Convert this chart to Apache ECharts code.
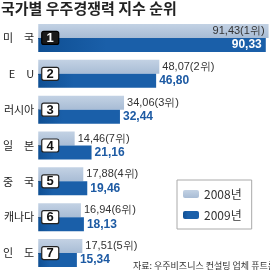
<!DOCTYPE html>
<html><head><meta charset="utf-8">
<script src="https://cdn.jsdelivr.net/npm/echarts@6/dist/echarts.min.js"></script>
<style>html,body{margin:0;padding:0;background:#fff}#c{width:270px;height:271px}</style>
</head><body><div id="c"></div>
<script>
var categories = ['미　국', 'E　U', '러시아', '일　본', '중　국', '캐나다', '인　도'];
var values2008 = [91.43, 48.07, 34.06, 14.46, 17.88, 16.94, 17.51];
var ranks2008 = [1, 2, 3, 7, 4, 6, 5];
var values2009 = [90.33, 46.80, 32.44, 21.16, 19.46, 18.13, 15.34];
var ranks2009 = [1, 2, 3, 4, 5, 6, 7];
var seriesNames = ['2008년', '2009년'];
var titleText = '국가별 우주경쟁력 지수 순위';
var sourceText = '자료: 우주비즈니스 컨설팅 업체 퓨트론';

var FONT = '"Noto Sans CJK KR", "Noto Sans", sans-serif';
var NUMFONT = '"Liberation Sans", Arial, sans-serif';
var LIGHT = new echarts.graphic.LinearGradient(0, 0, 0, 1, [{offset: 0, color: '#c3d2e4'}, {offset: 1, color: '#a8bcd5'}]);
var DARK = new echarts.graphic.LinearGradient(0, 0, 1, 0, [{offset: 0, color: '#0f4f93'}, {offset: 0.3, color: '#1a5fa9'}, {offset: 1, color: '#1a5fa9'}]);
function fmt(v) { return v.toFixed(2).replace('.', ','); }

var d2008 = values2008.map(function (v, i) {
  var o = {value: v};
  if (i === 0) o.label = {position: 'insideRight', distance: 4};
  return o;
});
var d2009 = values2009.map(function (v, i) {
  var o = {value: v};
  if (i === 0) o.label = {position: 'insideRight', distance: 4, color: '#fff'};
  return o;
});
var boxes = ranks2009.map(function (r, i) { return [0, i, r]; });

var chart = echarts.init(document.getElementById('c'), null, {renderer: 'canvas'});
chart.setOption({
  backgroundColor: '#fff',
  animation: false,
  textStyle: {fontFamily: FONT},
  title: {text: titleText, left: 1, top: 1, padding: 0,
    textStyle: {fontSize: 15, fontWeight: 'bold', color: '#222', fontFamily: FONT}},
  graphic: [{type: 'text', right: -6, bottom: 1,
    style: {text: sourceText, fontSize: 9, fill: '#333', fontFamily: FONT}}],
  legend: {orient: 'vertical', left: 177, top: 180, width: 63, itemWidth: 16, itemHeight: 8, itemGap: 9,
    padding: [8, 10, 8, 6], borderColor: '#aaa', borderWidth: 1, backgroundColor: '#fff',
    data: seriesNames, textStyle: {fontSize: 12, color: '#333', fontFamily: FONT}},
  grid: {left: 37, right: 0, top: 20, bottom: 0},
  xAxis: {type: 'value', min: 0, max: 92, show: false},
  yAxis: {type: 'category', data: categories, inverse: true,
    axisLine: {show: false},
    axisTick: {show: true, inside: true, length: 3, alignWithLabel: true, lineStyle: {color: '#333'}},
    axisLabel: {margin: 4, fontSize: 11, color: '#222', fontFamily: FONT}},
  series: [
    {name: seriesNames[0], type: 'bar', data: d2008, barWidth: 14, barGap: '0%',
      itemStyle: {color: LIGHT},
      label: {show: true, position: 'right', distance: 3, fontSize: 11, color: '#333', fontFamily: NUMFONT,
        formatter: function (p) { return fmt(p.value) + '(' + ranks2008[p.dataIndex] + '위)'; }}},
    {name: seriesNames[1], type: 'bar', data: d2009, barWidth: 14,
      itemStyle: {color: DARK},
      label: {show: true, position: 'right', distance: 3, fontSize: 12, fontWeight: 'bold', color: '#1d5aa3', fontFamily: NUMFONT,
        formatter: function (p) { return fmt(p.value); }}},
    {type: 'custom', data: boxes, z: 5, silent: true,
      renderItem: function (params, api) {
        var pt = api.coord([api.value(0), api.value(1)]);
        var top = api.value(2) === 1;
        return {type: 'group', children: [
          {type: 'rect', shape: {x: pt[0] + 3.5, y: pt[1] - 6.5, width: 17, height: 13, r: 2},
            style: {fill: top ? '#1a1a1a' : '#fff', stroke: top ? '#000' : '#222', lineWidth: 1.2}},
          {type: 'text', x: pt[0] + 12, y: pt[1] + 0.5,
            style: {text: String(api.value(2)), fill: top ? '#fff' : '#111', fontSize: 13, fontWeight: 'bold',
              fontFamily: NUMFONT, align: 'center', verticalAlign: 'middle'}}
        ]};
      }}
  ]
});
</script></body></html>
